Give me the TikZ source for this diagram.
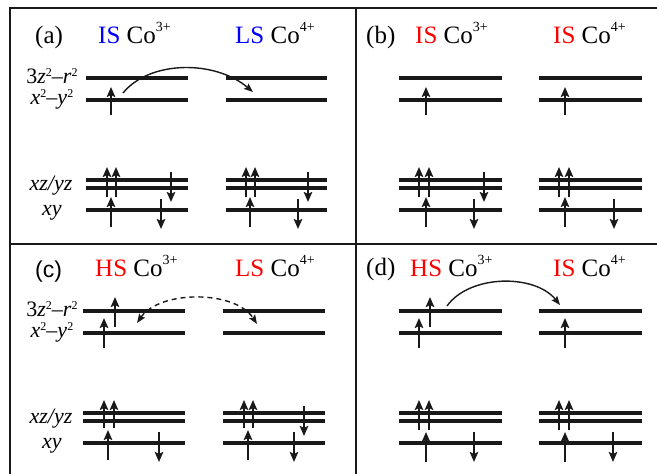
\documentclass[tikz,border=0pt]{standalone}
\usepackage{fontspec}
\setmainfont{Liberation Serif}
\newfontfamily\sansf{Liberation Sans}
\usetikzlibrary{arrows.meta}
\newcommand\sps[1]{\raisebox{12pt}{\fontsize{14}{14}\selectfont #1}}
\newcommand\lsp[1]{\raisebox{6.5pt}{\fontsize{12}{12}\selectfont #1}}
\newcommand\spin[3]{\draw[spinarr] (#1,#2) -- (#1,#3);}
\newcommand\lv[3]{\draw[lev] (#1,#3) -- (#2,#3);}
\begin{document}
\begin{tikzpicture}[x=1pt,y=-1pt,
  frame/.style={line width=2.5pt,black!90},
  lev/.style={line width=4pt,black!90},
  spinarr/.style={line width=2pt,black!90,-{Stealth[length=10pt,width=8.5pt,inset=2pt]}},
  hop/.style={line width=1.4pt,black!90,-{Stealth[length=9pt,width=7pt,inset=1.5pt]}},
  ttl/.style={anchor=base west,inner sep=0pt,font=\fontsize{25}{28}\selectfont},
  lbl/.style={anchor=base,inner sep=0pt,font=\fontsize{22}{25}\selectfont}]
\useasboundingbox (0,0) rectangle (657,474);
% frame
\draw[frame] (10,474) -- (10,8) -- (657,8);
\draw[frame] (356,8) -- (356,474);
\draw[frame] (10,244) -- (657,244);
% ---------- panel (a)
\node[ttl] (ta0) at (35,43) {(a)};
\node[ttl] (ta1) at (98,43) {\textcolor{blue}{IS} Co\sps{3+}};
\node[ttl] (ta2) at (235,43) {\textcolor{blue}{LS} Co\sps{4+}};
\node[lbl] (la1) at (52,83) {3\textit{z}\lsp{2}\textendash\textit{r}\lsp{2}};
\node[lbl] (la2) at (52,104) {\textit{x}\lsp{2}\textendash\textit{y}\lsp{2}};
\node[lbl] (la3) at (51,190) {\textit{xz/yz}};
\node[lbl] (la4) at (52,215) {\textit{xy}};
\foreach \y in {78,100,180,188,210} {\lv{86}{188}{\y}\lv{226}{327}{\y}}
\spin{111}{115}{87}
\spin{107}{197}{167}\spin{116}{197}{167}\spin{171}{172}{202}
\spin{111}{227}{197}\spin{161}{199}{229}
\spin{246}{197}{167}\spin{255}{197}{167}\spin{308}{172}{202}
\spin{250}{227}{197}\spin{298}{199}{229}
\coordinate (ha1) at (123,93); \coordinate (ha2) at (253,92);
\draw[hop] (ha1) .. controls (150,60) and (215,60) .. (ha2);
% ---------- panel (b)
\node[ttl] (tb0) at (366,43) {(b)};
\node[ttl] (tb1) at (415,43) {\textcolor{red}{IS} Co\sps{3+}};
\node[ttl] (tb2) at (553,43) {\textcolor{red}{IS} Co\sps{4+}};
\foreach \y in {78,100,180,188,210} {\lv{399}{502}{\y}\lv{539}{642}{\y}}
\spin{426}{115}{87}
\spin{419}{197}{167}\spin{429}{197}{167}\spin{484}{172}{202}
\spin{426}{227}{197}\spin{474}{199}{229}
\spin{565}{115}{87}
\spin{559}{197}{167}\spin{569}{197}{167}
\spin{565}{227}{197}\spin{614}{199}{229}
% ---------- panel (c)
\node[ttl,font=\sansf\fontsize{23}{26}\selectfont] (tc0) at (35,277) {(c)};
\node[ttl] (tc1) at (95,276) {\textcolor{red}{HS} Co\sps{3+}};
\node[ttl] (tc2) at (235,276) {\textcolor{red}{LS} Co\sps{4+}};
\node[lbl] (lc1) at (52,316) {3\textit{z}\lsp{2}\textendash\textit{r}\lsp{2}};
\node[lbl] (lc2) at (52,337) {\textit{x}\lsp{2}\textendash\textit{y}\lsp{2}};
\node[lbl] (lc3) at (51,423) {\textit{xz/yz}};
\node[lbl] (lc4) at (52,448) {\textit{xy}};
\foreach \y in {311,333,413,421,443} {\lv{83}{185}{\y}\lv{223}{325}{\y}}
\spin{104}{348}{318}\spin{115}{327}{297}
\spin{104}{428}{400}\spin{114}{428}{400}
\spin{108}{460}{430}\spin{159}{432}{462}
\spin{244}{428}{400}\spin{253}{428}{400}\spin{304}{406}{436}
\spin{248}{460}{430}\spin{294}{432}{462}
\coordinate (hc1) at (137,323); \coordinate (hc2) at (257,324);
\draw[hop,{Stealth[length=9pt,width=7pt,inset=1.5pt]}-{Stealth[length=9pt,width=7pt,inset=1.5pt]},dash pattern=on 5pt off 4pt] (hc1) .. controls (160,290) and (235,290) .. (hc2);
% ---------- panel (d)
\node[ttl] (td0) at (366,275) {(d)};
\node[ttl] (td1) at (410,276) {\textcolor{red}{HS} Co\sps{3+}};
\node[ttl] (td2) at (553,276) {\textcolor{red}{IS} Co\sps{4+}};
\foreach \y in {311,333,413,421,443} {\lv{399}{502}{\y}\lv{539}{642}{\y}}
\spin{419}{348}{318}\spin{430}{327}{297}
\spin{419}{430}{400}\spin{429}{430}{400}
\spin{426}{462}{432}\spin{474}{432}{462}
\spin{565}{348}{318}
\spin{559}{430}{400}\spin{569}{430}{400}
\spin{565}{462}{432}\spin{613}{432}{462}
\coordinate (hd1) at (447,306); \coordinate (hd2) at (560,305);
\draw[hop] (hd1) .. controls (470,274) and (535,274) .. (hd2);
\end{tikzpicture}
\end{document}
